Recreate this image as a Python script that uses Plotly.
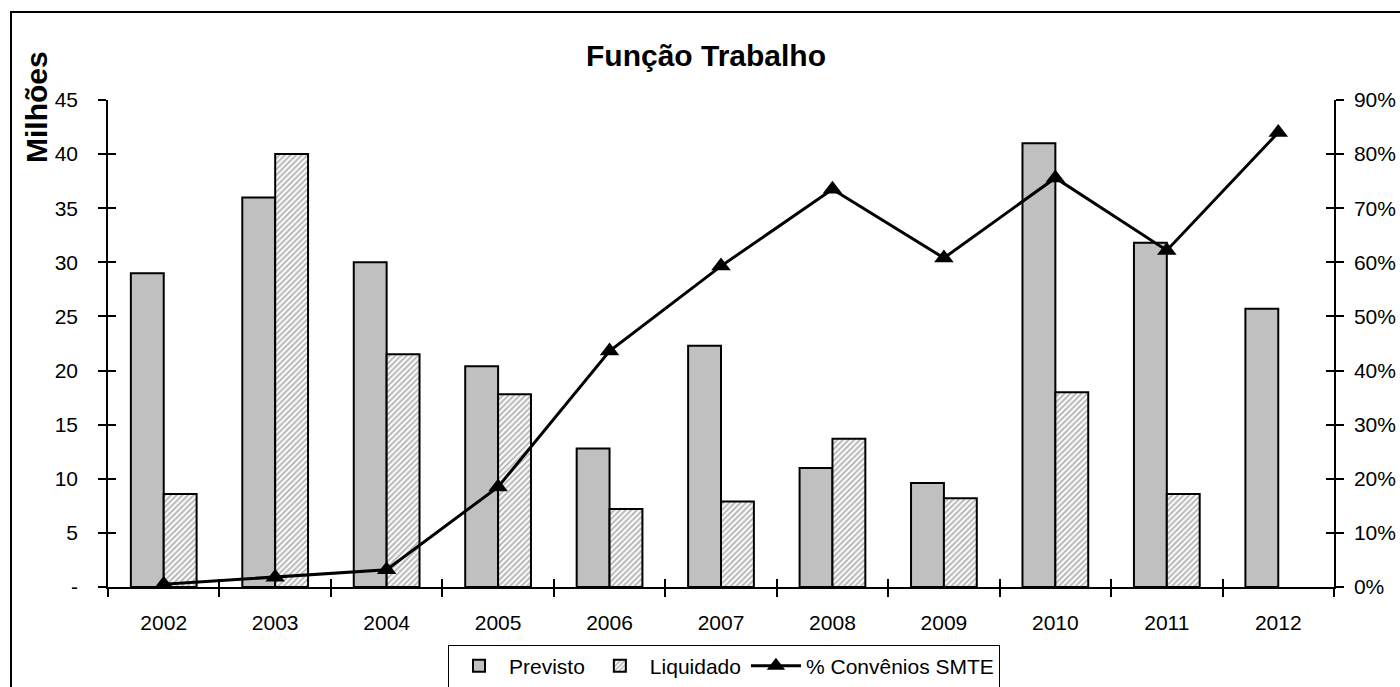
import plotly.graph_objects as go

years = ["2002", "2003", "2004", "2005", "2006", "2007", "2008", "2009", "2010", "2011", "2012"]
previsto = [29.0, 36.0, 30.0, 20.4, 12.8, 22.3, 11.0, 9.6, 41.0, 31.8, 25.7]
liquidado = [8.6, 40.0, 21.5, 17.8, 7.2, 7.9, 13.7, 8.2, 18.0, 8.6, None]
pct_convenios = [0.005, 0.018, 0.032, 0.185, 0.436, 0.593, 0.735, 0.608, 0.756, 0.622, 0.840]

left_ticks = [0, 5, 10, 15, 20, 25, 30, 35, 40, 45]
left_labels = ["-", "5", "10", "15", "20", "25", "30", "35", "40", "45"]
right_ticks = [0, 0.1, 0.2, 0.3, 0.4, 0.5, 0.6, 0.7, 0.8, 0.9]

W, H = 1400, 687
L, R, T, B = 108, 66, 100, 100
PW, PH = W - L - R, H - T - B

def px(x):
    return (x - L) / PW

def py(y):
    return (H - B - y) / PH

FONT = "Liberation Sans, Arial, sans-serif"
xrange_ = [-0.5, len(years) - 0.5]
boundaries = [i - 0.5 for i in range(len(years) + 1)]

fig = go.Figure()
fig.add_trace(go.Bar(
    x=years, y=previsto, name="Previsto",
    marker=dict(color="#C0C0C0", line=dict(color="black", width=2)),
))
fig.add_trace(go.Bar(
    x=years, y=liquidado, name="Liquidado",
    marker=dict(color="white", line=dict(color="black", width=2),
                pattern=dict(shape="/", fgcolor="#707070", bgcolor="white", size=4, solidity=0.5)),
))
fig.add_trace(go.Scatter(
    x=years, y=pct_convenios, name="% Convênios SMTE", yaxis="y2",
    mode="lines+markers",
    line=dict(color="black", width=3),
    marker=dict(symbol="triangle-up", size=17, color="black"),
))
# invisible helpers so the inner tick overlays get drawn
fig.add_trace(go.Scatter(x=[None], y=[None], xaxis="x2", yaxis="y3",
                         showlegend=False, hoverinfo="skip"))
fig.add_trace(go.Scatter(x=[None], y=[None], xaxis="x2", yaxis="y4",
                         showlegend=False, hoverinfo="skip"))

tick_common = dict(tickcolor="black", tickwidth=1.5, ticklen=8, showgrid=False,
                   zeroline=False, automargin=False)

fig.update_layout(
    width=W, height=H,
    margin=dict(l=L, r=R, t=T, b=B, autoexpand=False),
    paper_bgcolor="white", plot_bgcolor="white",
    font=dict(family=FONT, size=21, color="black"),
    barmode="group", bargap=0.41, bargroupgap=0,
    showlegend=True,
    legend=dict(orientation="h", x=724 / W, xanchor="center", xref="container",
                y=(H - 666) / H, yref="container", yanchor="middle",
                bordercolor="black", borderwidth=1, bgcolor="white",
                font=dict(size=21), itemwidth=50, traceorder="normal"),
    title=dict(text="<b>Função Trabalho</b>", x=px(706), xref="paper",
               y=1 - 55 / H, yref="container", xanchor="center", yanchor="middle",
               font=dict(size=30, family=FONT)),
    xaxis=dict(type="category", range=xrange_, showline=True, linecolor="black", linewidth=1.5,
               ticks="outside", tickson="boundaries", ticklabelstandoff=16,
               tickfont=dict(size=21), **tick_common),
    xaxis2=dict(overlaying="x", anchor="y", range=xrange_,
                tickmode="array", tickvals=boundaries, ticks="inside",
                showticklabels=False, showline=False, **tick_common),
    yaxis=dict(range=[0, 45], tickvals=left_ticks, ticktext=left_labels,
               showline=True, linecolor="black", linewidth=1.5,
               ticks="outside", ticklabelstandoff=16,
               tickfont=dict(size=21), **tick_common),
    yaxis2=dict(range=[0, 0.9], tickvals=right_ticks, tickformat=".0%",
                overlaying="y", side="right", anchor="x",
                showline=True, linecolor="black", linewidth=1.5,
                ticks="outside", ticklabelstandoff=6,
                tickfont=dict(size=21), **tick_common),
    yaxis3=dict(range=[0, 45], tickvals=left_ticks, overlaying="y", anchor="x",
                side="left", ticks="inside", showticklabels=False, showline=False,
                **tick_common),
    yaxis4=dict(range=[0, 0.9], tickvals=right_ticks, overlaying="y", anchor="x",
                side="right", ticks="inside", showticklabels=False, showline=False,
                **tick_common),
    annotations=[dict(text="<b>Milhões</b>", textangle=-90, x=px(36), y=py(107),
                      xref="paper", yref="paper", showarrow=False,
                      xanchor="center", yanchor="middle",
                      font=dict(size=30, family=FONT))],
    shapes=[dict(type="rect", xref="paper", yref="paper",
                 x0=px(11), x1=px(1410), y0=py(700), y1=py(12),
                 line=dict(color="black", width=2), fillcolor="rgba(0,0,0,0)", layer="below")],
)

fig.write_html("out.html", config={"displayModeBar": False},
               post_script="document.body.style.margin='0';")
